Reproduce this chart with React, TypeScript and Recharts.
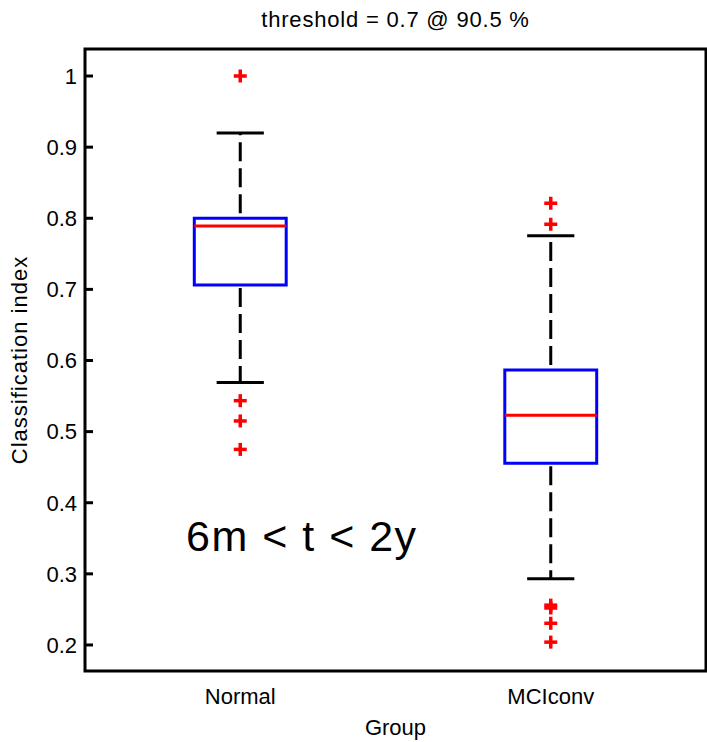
import React from 'react';
import {
  ComposedChart,
  Scatter,
  XAxis,
  YAxis,
  ReferenceArea,
  ReferenceLine,
} from 'recharts';

const groups = ['Normal', 'MCIconv'];
const lowerWhisker = [0.569, 0.293];
const q1 = [0.706, 0.4555];
const median = [0.789, 0.523];
const q3 = [0.8, 0.5866];
const upperWhisker = [0.92, 0.7755];
const outliersNormal = [1.0, 0.5435, 0.515, 0.475];
const outliersMCI = [0.821, 0.7915, 0.256, 0.252, 0.2305, 0.204];
const yTicks = [0.2, 0.3, 0.4, 0.5, 0.6, 0.7, 0.8, 0.9, 1];

const Y_MIN = 0.1634;
const Y_MAX = 1.038;
const BOX_HALF = 0.148;
const CAP_HALF = 0.076;
const FONT = 'Liberation Sans, Arial, Helvetica, sans-serif';

const outlierData = [
  ...outliersNormal.map((v) => ({ x: 1, y: v })),
  ...outliersMCI.map((v) => ({ x: 2, y: v })),
];

const Plus = (props: any) => {
  const { cx, cy } = props;
  if (cx == null || cy == null) return null;
  return (
    <g stroke="#ff0000" strokeWidth={3.5}>
      <line x1={cx - 6.5} x2={cx + 6.5} y1={cy} y2={cy} />
      <line x1={cx} x2={cx} y1={cy - 6.5} y2={cy + 6.5} />
    </g>
  );
};

export default function App() {
  return (
    <div style={{ position: 'absolute', left: 0, top: 0, width: 707, height: 742, fontFamily: FONT }}>
      <div
        style={{
          position: 'absolute',
          left: 85,
          width: 621,
          top: 9,
          fontSize: 22,
          lineHeight: '22px',
          textAlign: 'center',
          letterSpacing: 0.8,
          color: '#000',
        }}
      >
        threshold = 0.7 @ 90.5 %
      </div>
      <ComposedChart
        width={707}
        height={742}
        data={outlierData}
        margin={{ top: 49, right: 1, bottom: 0, left: 0 }}
      >
        <XAxis
          type="number"
          dataKey="x"
          domain={[0.5, 2.5]}
          ticks={[1, 2]}
          tickFormatter={(v) => groups[v - 1]}
          axisLine={false}
          tickLine={false}
          tickSize={0}
          tickMargin={17}
          height={71}
          tick={{ fill: '#000', fontSize: 22, fontFamily: FONT }}
          label={{ value: 'Group', position: 'insideBottom', offset: 7, fill: '#000', fontSize: 22, fontFamily: FONT }}
        />
        <YAxis
          type="number"
          dataKey="y"
          domain={[Y_MIN, Y_MAX]}
          allowDataOverflow
          ticks={yTicks}
          width={85}
          axisLine={false}
          tickSize={-8}
          tickMargin={16}
          tickLine={{ stroke: '#000', strokeWidth: 3 }}
          tick={{ fill: '#000', fontSize: 22, fontFamily: FONT }}
          label={{
            value: 'Classification index',
            angle: -90,
            position: 'center',
            dx: -23,
            fill: '#000',
            fontSize: 22,
            fontFamily: FONT,
            letterSpacing: 1,
          }}
        />
        <YAxis
          yAxisId="r"
          orientation="right"
          type="number"
          domain={[Y_MIN, Y_MAX]}
          allowDataOverflow
          ticks={yTicks}
          width={0}
          axisLine={false}
          tickSize={-8}
          tickLine={{ stroke: '#000', strokeWidth: 3 }}
          tickFormatter={() => ''}
        />
        <ReferenceArea
          x1={0.5}
          x2={2.5}
          y1={Y_MIN}
          y2={Y_MAX}
          fill="none"
          fillOpacity={0}
          stroke="#000"
          strokeWidth={3}
          ifOverflow="visible"
        />
        {groups.map((g, i) => {
          const x = i + 1;
          return (
            <React.Fragment key={g}>
              <ReferenceLine
                segment={[{ x, y: q3[i] }, { x, y: upperWhisker[i] }]}
                stroke="#000"
                strokeWidth={3}
                strokeDasharray="19 7"
                strokeDashoffset={-5}
              />
              <ReferenceLine
                segment={[{ x, y: q1[i] }, { x, y: lowerWhisker[i] }]}
                stroke="#000"
                strokeWidth={3}
                strokeDasharray="19 7"
                strokeDashoffset={-3}
              />
              <ReferenceLine
                segment={[{ x: x - CAP_HALF, y: upperWhisker[i] }, { x: x + CAP_HALF, y: upperWhisker[i] }]}
                stroke="#000"
                strokeWidth={3}
              />
              <ReferenceLine
                segment={[{ x: x - CAP_HALF, y: lowerWhisker[i] }, { x: x + CAP_HALF, y: lowerWhisker[i] }]}
                stroke="#000"
                strokeWidth={3}
              />
              <ReferenceArea
                x1={x - BOX_HALF}
                x2={x + BOX_HALF}
                y1={q1[i]}
                y2={q3[i]}
                fill="#fff"
                fillOpacity={1}
                stroke="#0000ff"
                strokeWidth={3}
              />
              <ReferenceLine
                segment={[{ x: x - BOX_HALF, y: median[i] }, { x: x + BOX_HALF, y: median[i] }]}
                stroke="#ff0000"
                strokeWidth={3}
              />
            </React.Fragment>
          );
        })}
        <Scatter dataKey="y" shape={<Plus />} isAnimationActive={false} />
      </ComposedChart>
      <div
        style={{
          position: 'absolute',
          left: 186,
          top: 515,
          fontSize: 43,
          lineHeight: '43px',
          letterSpacing: 1.5,
          whiteSpace: 'nowrap',
          color: '#000',
        }}
      >
        6m &lt; t &lt; 2y
      </div>
    </div>
  );
}
